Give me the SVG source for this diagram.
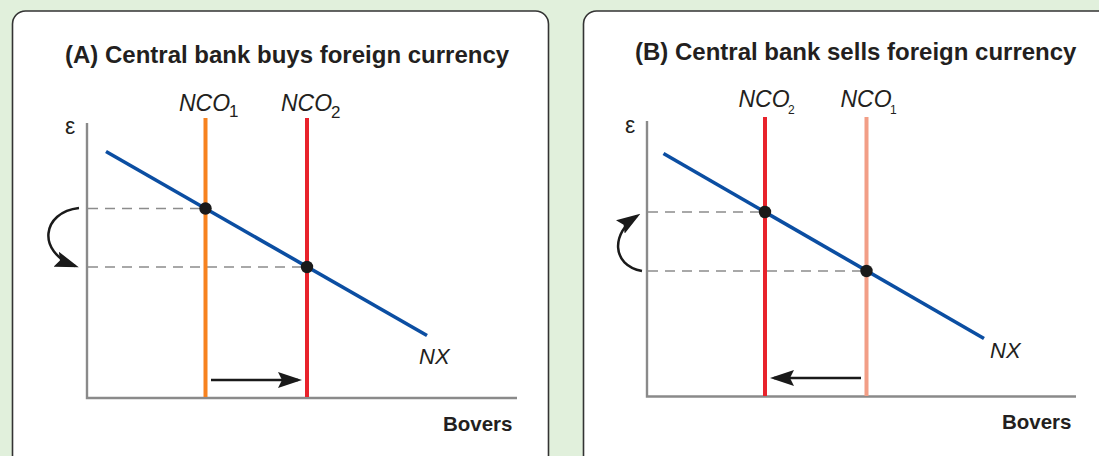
<svg xmlns="http://www.w3.org/2000/svg" width="1099" height="456" viewBox="0 0 1099 456">
<defs>
<style>
.card{fill:#ffffff;stroke:#333333;stroke-width:1.6}
.axis{fill:none;stroke:#8a8a8a;stroke-width:2.4}
.dash{fill:none;stroke:#8c8c8c;stroke-width:1.6;stroke-dasharray:10 7}
.nx{fill:none;stroke:#0b4ea2;stroke-width:3.6}
.v{fill:none;stroke-width:4}
.dot{fill:#1a1a1a}
.arr{fill:none;stroke:#1a1a1a;stroke-width:2.5;marker-end:url(#head)}
.title{font-family:"Liberation Sans",Arial,sans-serif;font-weight:bold;font-size:24px;fill:#231f20}
.lab{font-family:"Liberation Sans",Arial,sans-serif;font-style:italic;font-size:23px;fill:#231f20}
.nxl{font-family:"Liberation Sans",Arial,sans-serif;font-style:italic;font-size:22px;fill:#231f20}
.sub{font-family:"Liberation Sans",Arial,sans-serif;font-size:17px;fill:#231f20}
.subs{font-family:"Liberation Sans",Arial,sans-serif;font-size:12px;fill:#231f20}
.ax{font-family:"Liberation Sans",Arial,sans-serif;font-weight:bold;font-size:20.5px;fill:#231f20}
.eps{font-family:"Liberation Sans",Arial,sans-serif;font-size:23px;fill:#231f20}
</style>
<marker id="head" viewBox="0 0 24 16" refX="20" refY="8" markerWidth="24" markerHeight="16" markerUnits="userSpaceOnUse" orient="auto">
<path d="M0,0 L24,8 L0,16 L4,8 z" fill="#1a1a1a"/>
</marker>
</defs>
<rect x="0" y="0" width="1099" height="456" fill="#e1f0dc"/>

<g id="panelA">
<rect class="card" x="12.5" y="11" width="536" height="470" rx="13"/>
<text class="title" x="65" y="63">(A) Central bank buys foreign currency</text>
<g id="A-axes">
<polyline class="axis" points="87,123 87,398 517,398"/>
<text class="eps" x="65" y="134">ε</text>
<text class="ax" x="512.5" y="431" text-anchor="end">Bovers</text>
</g>
<g id="A-dashes">
<line class="dash" x1="88" y1="208.5" x2="205" y2="208.5"/>
<line class="dash" x1="88" y1="267" x2="307" y2="267"/>
</g>
<g id="A-NCO1">
<line class="v" stroke="#f7821f" x1="205.5" y1="118" x2="205.5" y2="397"/>
<text class="lab" x="179" y="111">NCO</text><text class="sub" x="229" y="117">1</text>
</g>
<g id="A-NCO2">
<line class="v" stroke="#e8222b" x1="307" y1="118" x2="307" y2="397"/>
<text class="lab" x="281" y="111">NCO</text><text class="sub" x="331" y="118">2</text>
</g>
<g id="A-NX">
<line class="nx" x1="106" y1="151.5" x2="427" y2="335.5"/>
<text class="nxl" x="419" y="364">NX</text>
</g>
<g id="A-points">
<circle class="dot" cx="205.5" cy="208.5" r="6.2"/>
<circle class="dot" cx="307" cy="267" r="6.2"/>
</g>
</g>

<g id="panelB">
<rect class="card" x="583.5" y="11" width="540" height="470" rx="13"/>
<text class="title" x="635" y="60">(B) Central bank sells foreign currency</text>
<g id="B-axes">
<polyline class="axis" points="647,121 647,396.5 1076,396.5"/>
<text class="eps" x="625" y="133">ε</text>
<text class="ax" x="1071.5" y="429" text-anchor="end">Bovers</text>
</g>
<g id="B-dashes">
<line class="dash" x1="648" y1="212" x2="765" y2="212"/>
<line class="dash" x1="648" y1="271" x2="866.5" y2="271"/>
</g>
<g id="B-NCO2">
<line class="v" stroke="#e8222b" x1="765" y1="117" x2="765" y2="396"/>
<text class="lab" x="738.5" y="107">NCO</text><text class="subs" x="788" y="114">2</text>
</g>
<g id="B-NCO1">
<line class="v" stroke="#f29e86" x1="866.5" y1="117" x2="866.5" y2="396"/>
<text class="lab" x="840.5" y="107">NCO</text><text class="subs" x="890" y="114">1</text>
</g>
<g id="B-NX">
<line class="nx" x1="663.5" y1="153.5" x2="984" y2="338.5"/>
<text class="nxl" x="990" y="358">NX</text>
</g>
<g id="B-points">
<circle class="dot" cx="765" cy="212" r="6.2"/>
<circle class="dot" cx="866.5" cy="271" r="6.2"/>
</g>
</g>

<g id="connectors">
<path class="arr" d="M211,380 H298"/>
<path class="arr" d="M79,208 C42,212 36,252 75,266"/>
<path class="arr" d="M861,378 H774"/>
<path class="arr" d="M642,271 C611,265 611,233 637,216"/>
</g>
</svg>
